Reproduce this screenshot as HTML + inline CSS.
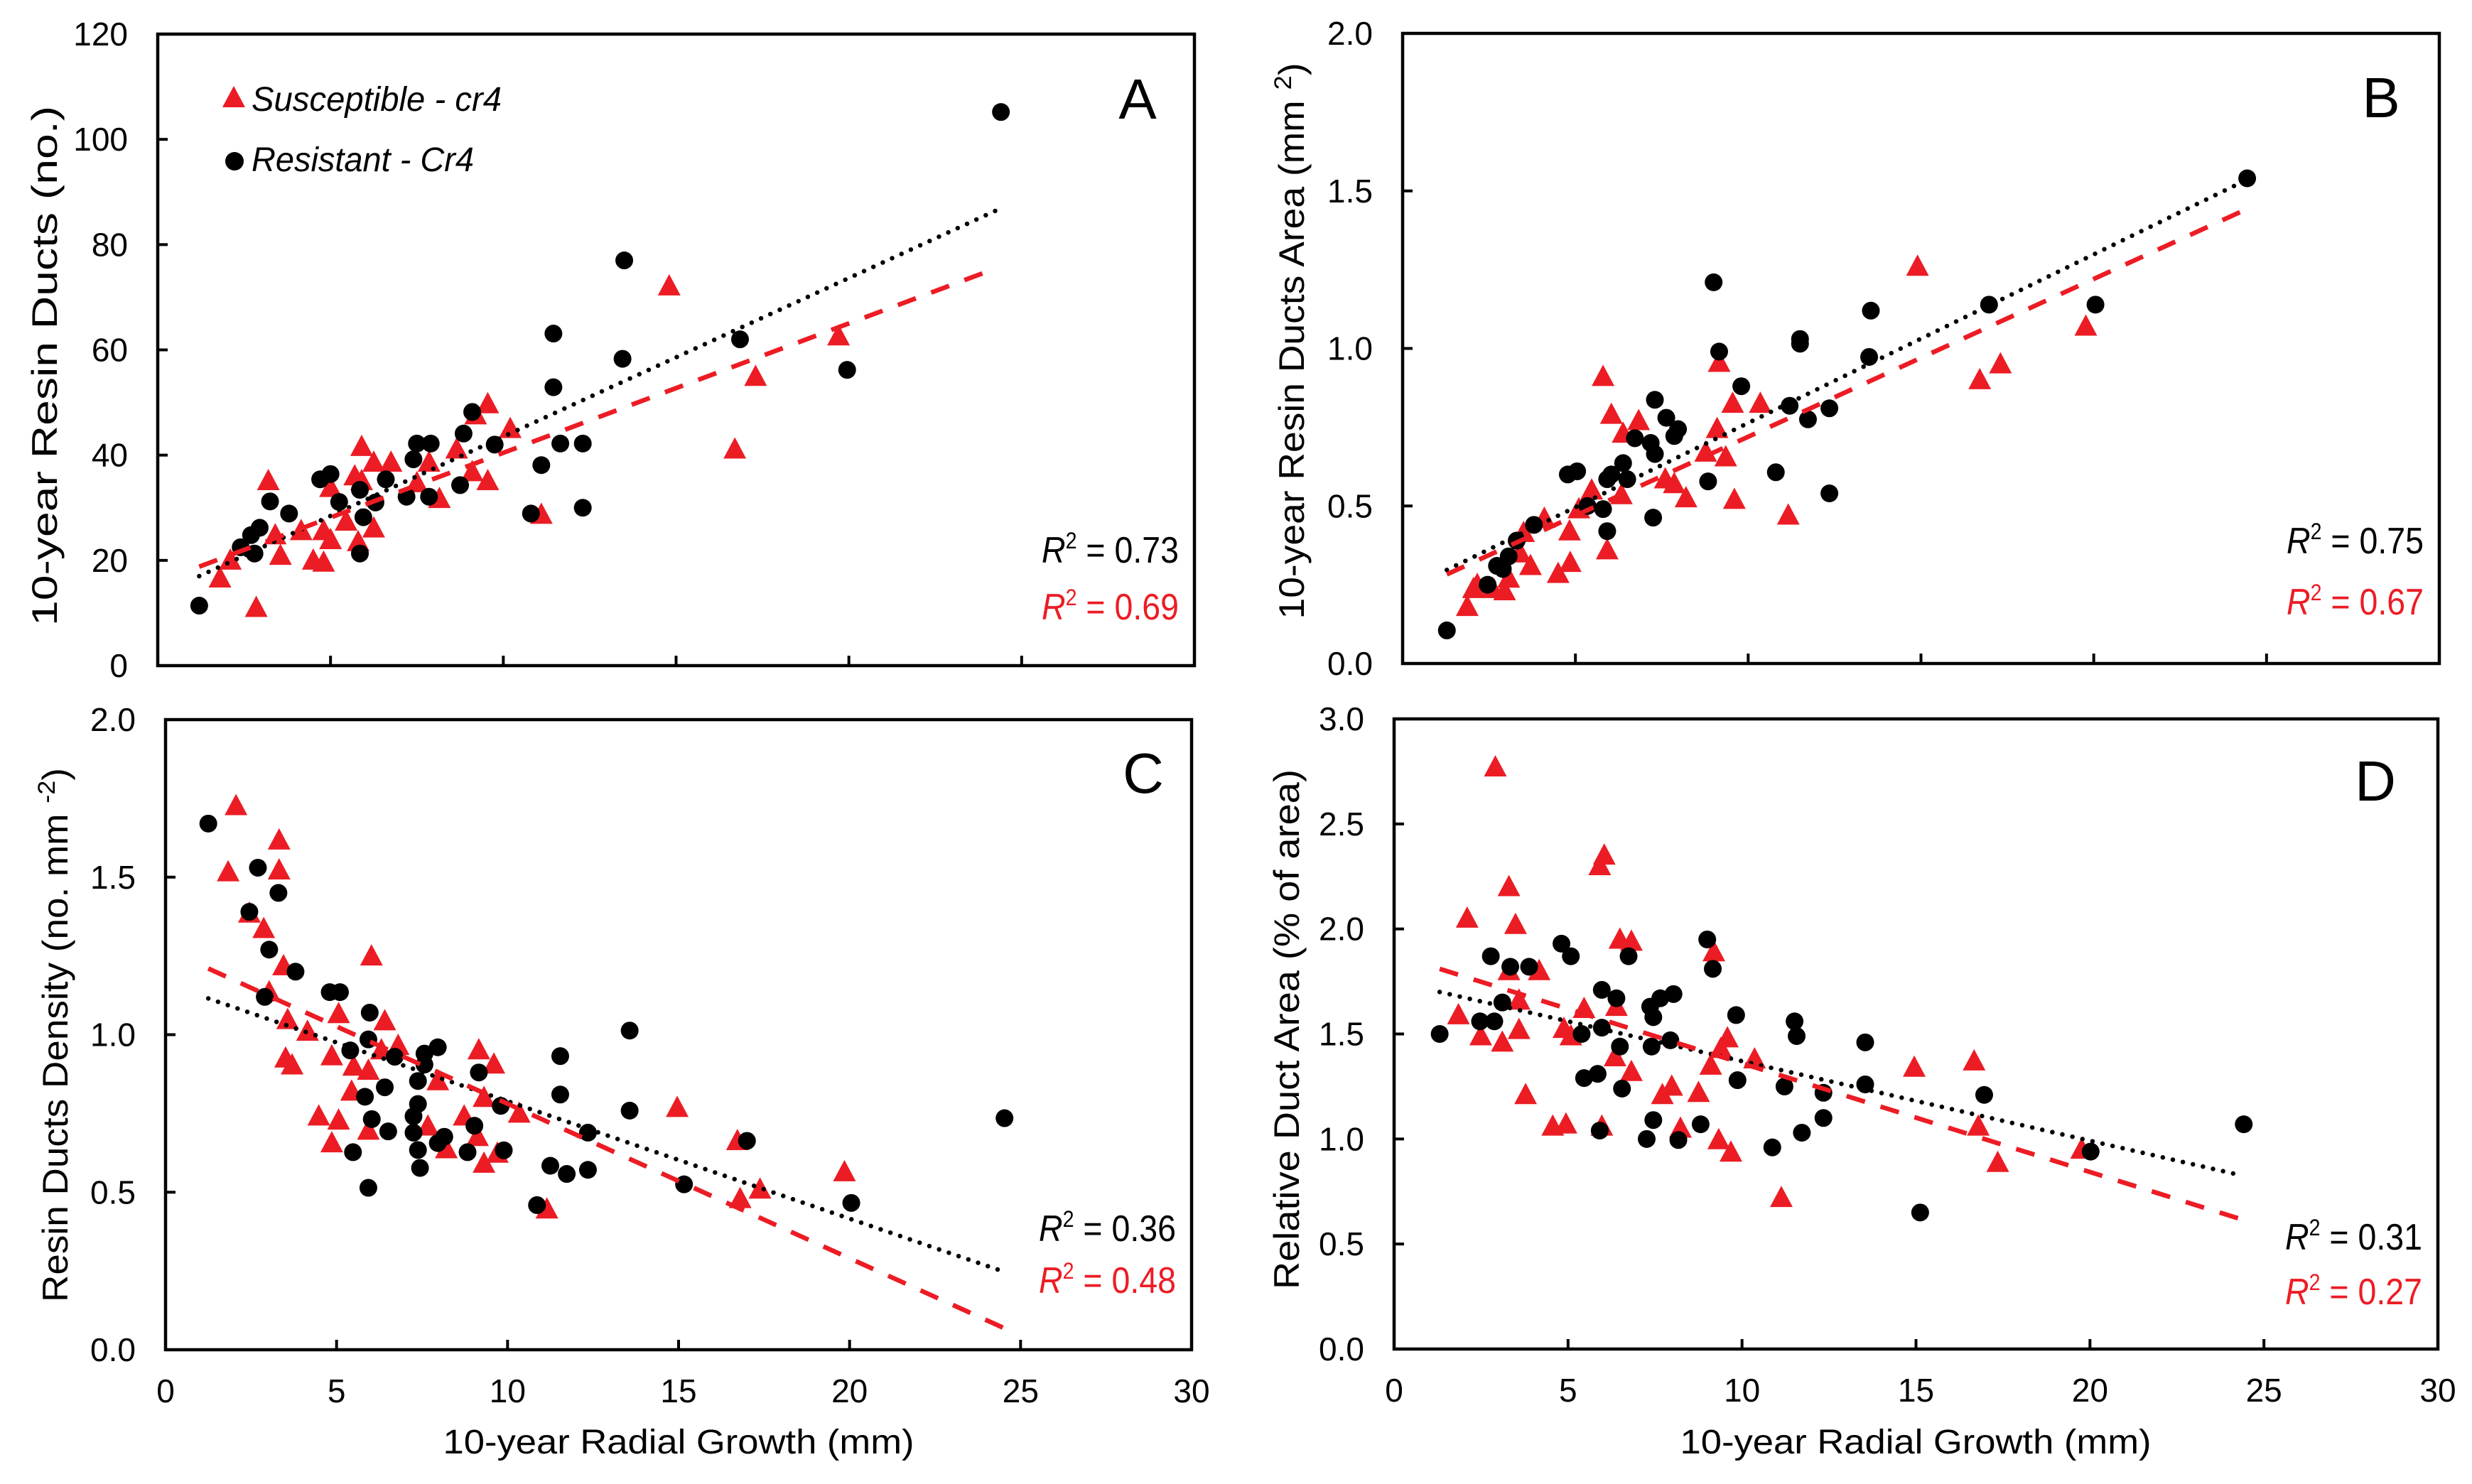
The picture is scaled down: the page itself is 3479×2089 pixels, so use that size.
<!DOCTYPE html>
<html><head><meta charset="utf-8"><title>Resin ducts vs radial growth</title>
<style>
html,body{margin:0;padding:0;background:#fff;}
svg{display:block;font-family:"Liberation Sans",Arial,sans-serif;}
</style></head>
<body>
<svg id="chart" width="3479" height="2089" viewBox="0 0 3479 2089" xmlns="http://www.w3.org/2000/svg"></svg>
<script>
// ---------- Panel A: resin duct count ----------
const aBlackX=[1.2,2.4,2.7,2.95,2.8,3.25,3.8,4.7,5.0,5.25,5.85,5.85,5.95,6.3,6.6,7.2,7.4,7.5,7.9,7.85,8.75,8.85,9.1,9.75,10.8,11.1,11.45,11.45,11.65,12.3,12.3,13.45,13.5,16.85,19.95,24.4];
const aBlackY=[11.4,22.5,24.8,26.2,21.3,31.2,28.9,35.4,36.4,31.1,21.3,33.4,28.2,31,35.4,32.1,39.2,42.2,42.2,32.1,34.3,44.1,48.2,42,28.9,38.1,52.9,63.1,42.2,42.2,30,58.3,77,62,56.2,105.2];
const aRedX=[1.8,2.1,2.85,3.2,3.4,3.55,4.15,4.5,4.8,4.8,5.0,5.45,5.8,5.9,5.9,6.25,6.25,6.75,5.0,5.7,7.85,8.15,8.65,9.1,9.55,9.55,9.2,10.2,11.1,14.8,16.7,17.3,19.7,7.5];
const aRedY=[16.6,20,11,35.1,24.8,20.9,25.6,20,19.6,25.6,23.9,27.4,23.5,35.1,41.6,26.1,38.6,38.6,33.8,36,38.6,31.7,41.1,36.8,35.1,49.7,47.6,45,28.7,72.1,41.1,54.9,62.6,34.7];
const aBlackTrendX=[1.2,24.3], aBlackTrendY=[17,86.6];
const aRedTrendX=[1.2,24.3], aRedTrendY=[18.8,75.6];
const aYTicks=[0,20,40,60,80,100,120];
const aYTickLabels=["0","20","40","60","80","100","120"];

// ---------- Panel B: resin duct area ----------
const bBlackX=[1.28,2.46,2.73,2.9,3.07,3.3,3.8,4.78,5.05,5.35,5.8,5.92,5.92,6.04,6.38,6.5,6.72,7.18,7.3,7.3,7.25,7.63,7.86,7.97,8.84,9.0,9.16,9.8,10.8,11.2,11.5,11.5,11.73,12.35,12.35,13.5,13.55,16.97,20.05,24.44];
const bBlackY=[0.105,0.25,0.31,0.30,0.34,0.39,0.44,0.60,0.61,0.50,0.49,0.42,0.585,0.60,0.636,0.585,0.715,0.70,0.837,0.665,0.463,0.78,0.722,0.744,0.578,1.21,0.99,0.88,0.607,0.818,1.03,1.015,0.775,0.81,0.54,0.973,1.12,1.139,1.139,1.54];
const bRedX=[1.87,2.05,2.16,2.6,2.95,3.07,3.4,3.5,3.7,4.1,4.5,4.85,4.83,5.1,5.47,5.8,5.92,6.04,6.33,6.38,6.83,7.6,7.86,8.2,8.77,9.1,9.16,9.35,9.55,9.6,10.35,11.16,14.9,16.7,17.3,19.77];
const bRedY=[0.18,0.237,0.25,0.237,0.23,0.27,0.35,0.415,0.31,0.46,0.285,0.32,0.42,0.49,0.55,0.91,0.36,0.79,0.535,0.73,0.77,0.585,0.57,0.525,0.67,0.745,0.955,0.655,0.825,0.52,0.825,0.47,1.26,0.9,0.95,1.07];
const bBlackTrendX=[1.28,24.44], bBlackTrendY=[0.297,1.536];
const bRedTrendX=[1.28,24.44], bRedTrendY=[0.283,1.443];
const bYTicks=[0,0.5,1.0,1.5,2.0];
const bYTickLabels=["0.0","0.5","1.0","1.5","2.0"];

// ---------- Panel C: resin duct density ----------
const cBlackX=[1.25,2.7,3.3,2.45,3.03,3.8,2.9,4.8,5.1,5.97,5.93,5.4,6.7,7.57,7.96,7.57,9.16,7.38,6.41,5.83,7.38,9.8,7.25,6.03,9.03,7.25,6.51,8.15,7.96,5.48,7.38,8.83,9.89,7.44,5.93,11.25,11.73,12.35,12.35,11.54,11.54,13.57,13.57,10.86,15.16,17.0,20.05,24.53];
const cBlackY=[1.67,1.53,1.45,1.39,1.27,1.20,1.12,1.135,1.135,1.07,0.985,0.95,0.93,0.94,0.96,0.905,0.88,0.853,0.833,0.803,0.78,0.774,0.741,0.732,0.711,0.689,0.693,0.676,0.656,0.627,0.634,0.627,0.633,0.577,0.514,0.584,0.558,0.571,0.689,0.932,0.81,1.013,0.759,0.459,0.525,0.663,0.466,0.735];
const cRedX=[2.06,3.32,1.83,3.32,2.45,2.87,3.45,6.02,3.03,3.57,4.15,5.06,6.41,3.51,3.7,4.86,5.5,5.93,6.31,6.8,9.16,9.6,7.96,5.44,9.31,10.34,4.48,5.06,5.93,4.86,7.67,8.73,9.12,8.21,9.7,9.31,11.15,14.96,16.72,16.8,17.38,19.85];
const cRedY=[1.726,1.617,1.516,1.522,1.385,1.336,1.218,1.249,1.135,1.047,1.01,1.066,1.043,0.925,0.903,0.932,0.899,0.886,0.951,0.965,0.951,0.906,0.853,0.82,0.8,0.75,0.741,0.728,0.696,0.656,0.709,0.741,0.676,0.637,0.623,0.591,0.446,0.768,0.663,0.479,0.509,0.564];
const cBlackTrendX=[1.25,24.4], cBlackTrendY=[1.115,0.252];
const cRedTrendX=[1.25,24.53], cRedTrendY=[1.21,0.068];
const cYTicks=[0,0.5,1.0,1.5,2.0];
const cYTickLabels=["0.0","0.5","1.0","1.5","2.0"];

// ---------- Panel D: relative duct area ----------
const dBlackX=[1.31,2.47,2.88,2.78,3.11,3.34,3.88,4.81,5.08,5.39,5.46,5.85,5.97,5.97,6.39,6.49,6.55,6.74,5.91,7.36,7.45,7.65,8.03,7.4,7.94,7.45,7.26,8.17,8.81,9.0,9.16,9.83,9.87,10.87,11.22,11.51,11.57,11.72,12.34,12.34,13.54,13.54,15.12,16.96,20.02,24.42];
const dBlackY=[1.50,1.56,1.56,1.87,1.65,1.82,1.82,1.93,1.87,1.50,1.29,1.31,1.71,1.53,1.67,1.44,1.24,1.87,1.04,1.63,1.58,1.67,1.69,1.44,1.47,1.09,1.0,0.995,1.07,1.95,1.81,1.59,1.28,0.96,1.25,1.56,1.49,1.03,1.22,1.1,1.46,1.26,0.65,1.21,0.94,1.07];
const dRedX=[2.91,6.04,5.91,3.3,2.1,3.49,6.49,6.82,9.19,3.3,4.17,1.85,3.59,5.46,6.39,3.59,2.49,3.11,4.88,5.08,9.58,9.39,6.35,6.82,9.1,10.36,3.78,7.71,7.98,8.75,4.56,4.94,5.97,8.23,9.33,9.68,11.13,14.95,16.67,16.79,17.35,19.76];
const dRedY=[2.77,2.35,2.3,2.2,2.05,2.02,1.95,1.94,1.89,1.8,1.8,1.59,1.66,1.62,1.63,1.52,1.49,1.46,1.525,1.49,1.48,1.43,1.39,1.32,1.35,1.38,1.21,1.21,1.25,1.22,1.06,1.07,1.06,1.05,0.995,0.936,0.72,1.34,1.37,1.06,0.887,0.95];
const dBlackTrendX=[1.31,24.32], dBlackTrendY=[1.70,0.828];
const dRedTrendX=[1.31,24.46], dRedTrendY=[1.81,0.612];
const dYTicks=[0,0.5,1.0,1.5,2.0,2.5,3.0];
const dYTickLabels=["0.0","0.5","1.0","1.5","2.0","2.5","3.0"];

// shared x axis
const xTicks=[0,5,10,15,20,25,30];
const xTickLabels=["0","5","10","15","20","25","30"];

const NS="http://www.w3.org/2000/svg";
const svg=document.getElementById('chart');
const RED="#ec1c24";
function mk(tag,attrs,parent){const e=document.createElementNS(NS,tag);for(const k in attrs)e.setAttribute(k,attrs[k]);(parent||svg).appendChild(e);return e;}

const panels=[
 {id:'a',L:222,T:48,R:1681,B:937,ymax:120,yt:aYTicks,yl:aYTickLabels,bx:aBlackX,by:aBlackY,rx:aRedX,ry:aRedY,btx:aBlackTrendX,bty:aBlackTrendY,rtx:aRedTrendX,rty:aRedTrendY,xl:false,letter:'A',lx:1601,ly:167,r2b:'0.73',r2r:'0.69',r2y1:792,r2y2:872},
 {id:'b',L:1974,T:47,R:3433,B:934,ymax:2,yt:bYTicks,yl:bYTickLabels,bx:bBlackX,by:bBlackY,rx:bRedX,ry:bRedY,btx:bBlackTrendX,bty:bBlackTrendY,rtx:bRedTrendX,rty:bRedTrendY,xl:false,letter:'B',lx:3351,ly:165,r2b:'0.75',r2r:'0.67',r2y1:779,r2y2:865},
 {id:'c',L:233,T:1013,R:1677,B:1900,ymax:2,yt:cYTicks,yl:cYTickLabels,bx:cBlackX,by:cBlackY,rx:cRedX,ry:cRedY,btx:cBlackTrendX,bty:cBlackTrendY,rtx:cRedTrendX,rty:cRedTrendY,xl:true,letter:'C',lx:1609,ly:1116,r2b:'0.36',r2r:'0.48',r2y1:1747,r2y2:1820},
 {id:'d',L:1962,T:1012,R:3431,B:1899,ymax:3,yt:dYTicks,yl:dYTickLabels,bx:dBlackX,by:dBlackY,rx:dRedX,ry:dRedY,btx:dBlackTrendX,bty:dBlackTrendY,rtx:dRedTrendX,rty:dRedTrendY,xl:true,letter:'D',lx:3343,ly:1127,r2b:'0.31',r2r:'0.27',r2y1:1759,r2y2:1836}
];

panels.forEach(p=>{
  const g=mk('g',{});
  
  
  const sx=v=>p.L+(v/30)*(p.R-p.L);
  const sy=v=>p.B-(v/p.ymax)*(p.B-p.T);
  p.yt.forEach((v,i)=>{
    const y=sy(v);
    if(v>0&&v<p.ymax){const t=mk('line',{x1:p.L,y1:y,x2:p.L+14,y2:y,stroke:'#000','stroke-width':4},g);
      }
    const tx=mk('text',{x:p.L-42,y:y+16,'text-anchor':'end','font-size':46,fill:'#000'},g);
    
    tx.textContent=p.yl[i];
  });
  xTicks.forEach((v,i)=>{
    const x=sx(v);
    if(v>0&&v<30){const t=mk('line',{x1:x,y1:p.B,x2:x,y2:p.B-14,stroke:'#000','stroke-width':4},g);
      }
    if(p.xl){const tx=mk('text',{x:x,y:p.B+74,'text-anchor':'middle','font-size':46,fill:'#000'},g);
      
      tx.textContent=xTickLabels[i];}
  });
  p.rx.forEach((v,i)=>{
    const x=sx(v),y=sy(p.ry[i]);
    const m=mk('polygon',{points:`${x},${y-17} ${x-16},${y+13} ${x+16},${y+13}`,fill:RED},g);
    
    
  });
  p.bx.forEach((v,i)=>{
    const m=mk('circle',{cx:sx(v),cy:sy(p.by[i]),r:12.5,fill:'#000'},g);
    
    
  });
  const bl=mk('line',{x1:sx(p.btx[0]),y1:sy(p.bty[0]),x2:sx(p.btx[1]),y2:sy(p.bty[1]),stroke:'#000','stroke-width':6.5,'stroke-linecap':'round','stroke-dasharray':'0 14.5'},g);
  
  
  const rl=mk('line',{x1:sx(p.rtx[0]),y1:sy(p.rty[0]),x2:sx(p.rtx[1]),y2:sy(p.rty[1]),stroke:RED,'stroke-width':6.5,'stroke-dasharray':'27 23'},g);
  
  
  const fr=mk('rect',{x:p.L,y:p.T,width:p.R-p.L,height:p.B-p.T,fill:'none',stroke:'#000','stroke-width':4.5},g);
  
  
  const lt=mk('text',{x:p.lx,y:p.ly,'text-anchor':'middle','font-size':80,fill:'#000'},g);
  
  
  lt.textContent=p.letter;
  [[p.r2b,'#000',p.r2y1,'r2-resistant'],[p.r2r,RED,p.r2y2,'r2-susceptible']].forEach(r=>{
    const t=mk('text',{x:p.R-22,y:r[2],'text-anchor':'end','font-size':52,fill:r[1],textLength:193,lengthAdjust:'spacingAndGlyphs'},g);
    
    
    t.innerHTML='<tspan font-style="italic">R</tspan><tspan font-size="32" dy="-20">2</tspan><tspan dy="20"> = '+r[0]+'</tspan>';
  });
});
</script>
<script>
(function(){
const NS="http://www.w3.org/2000/svg";
const svg=document.getElementById('chart');
function t(attrs,html,name){const e=document.createElementNS(NS,'text');for(const k in attrs)e.setAttribute(k,attrs[k]);e.innerHTML=html;
  
  
  svg.appendChild(e);return e;}
t({x:0,y:0,transform:'translate(80,515) rotate(-90)','text-anchor':'middle','font-size':50,textLength:732,lengthAdjust:'spacingAndGlyphs'},'10-year Resin Ducts (no.)','y-axis-title-a');
t({x:0,y:0,transform:'translate(1835,480) rotate(-90)','text-anchor':'middle','font-size':50,textLength:783,lengthAdjust:'spacingAndGlyphs'},'10-year Resin Ducts Area (mm <tspan font-size="34" dy="-18">2</tspan><tspan dy="18">)</tspan>','y-axis-title-b');
t({x:0,y:0,transform:'translate(95,1457) rotate(-90)','text-anchor':'middle','font-size':50,textLength:752,lengthAdjust:'spacingAndGlyphs'},'Resin Ducts Density (no. mm <tspan font-size="34" dy="-18">-2</tspan><tspan dy="18">)</tspan>','y-axis-title-c');
t({x:0,y:0,transform:'translate(1828,1449) rotate(-90)','text-anchor':'middle','font-size':50,textLength:732,lengthAdjust:'spacingAndGlyphs'},'Relative Duct Area (% of area)','y-axis-title-d');
t({x:955,y:2046,'text-anchor':'middle','font-size':48,textLength:663,lengthAdjust:'spacingAndGlyphs'},'10-year Radial Growth (mm)','x-axis-title-c');
t({x:2696,y:2046,'text-anchor':'middle','font-size':48,textLength:663,lengthAdjust:'spacingAndGlyphs'},'10-year Radial Growth (mm)','x-axis-title-d');
const tri=document.createElementNS(NS,'polygon');
tri.setAttribute('points','329,121 313,151 345,151');tri.setAttribute('fill','#ec1c24');


svg.appendChild(tri);
const dot=document.createElementNS(NS,'circle');
dot.setAttribute('cx','330');dot.setAttribute('cy','227');dot.setAttribute('r','13');


svg.appendChild(dot);
t({x:354,y:156,'font-size':48,'font-style':'italic',textLength:352,lengthAdjust:'spacingAndGlyphs'},'Susceptible - cr4','legend-susceptible-label');
t({x:354,y:241,'font-size':48,'font-style':'italic',textLength:313,lengthAdjust:'spacingAndGlyphs'},'Resistant - Cr4','legend-resistant-label');
})();
</script>
</body></html>
